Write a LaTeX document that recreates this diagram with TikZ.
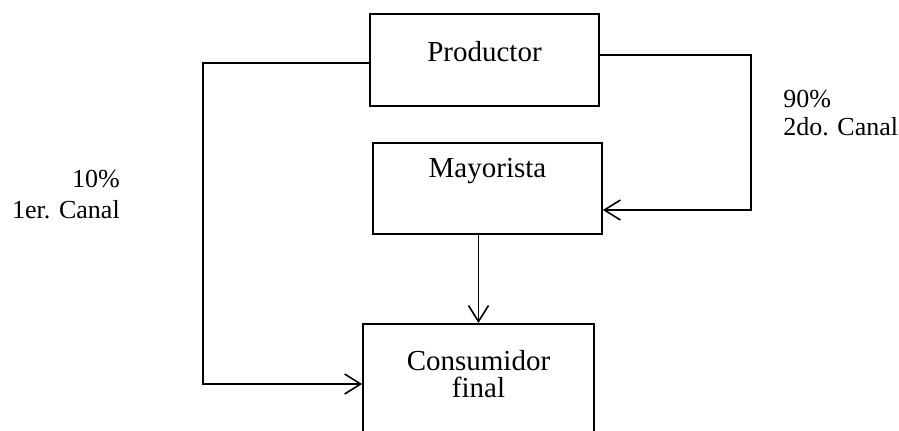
\documentclass[tikz,border=0pt]{standalone}
\usepackage{fontspec}
\setmainfont{Liberation Serif}
\usetikzlibrary{positioning,arrows.meta}
\tikzset{
	caja/.style={draw, line width=1.3pt, inner sep=0pt},
	flecha/.style={line width=1.3pt, -{Straight Barb[length=12pt,width=15pt,line width=1.2pt]}},
	rotulo/.style={font=\fontsize{19.5}{23}\selectfont, inner sep=0pt}
}

\begin{document}
\begin{tikzpicture}[x=0.75pt, y=-0.75pt, font=\fontsize{21.75}{26}\selectfont]
	\useasboundingbox (0,0) rectangle (899,430);
	\node[caja, anchor=north, minimum width=171.75pt, text height=36pt, text depth=33pt] (prod) at (484.5,13) {Productor};
	\node[caja, anchor=north, minimum width=171.75pt, text height=26.25pt, text depth=42pt] (may) at (487.5,142) {Mayorista};
	\node[caja, anchor=north, minimum width=173.25pt, minimum height=87.75pt] (cons) at (478.5,323) {};
	\node[anchor=base, inner sep=0pt] (tcons) at (478.5,370) {Consumidor};
	\node[anchor=base, inner sep=0pt] (tfin) at (478.5,397) {final};
	\coordinate (izq) at (203,384);
	\coordinate (der) at (751,210);
	\draw[flecha] ([yshift=-2.25pt]prod.west) -| (izq) -- (izq -| cons.west);
	\draw[flecha] ([yshift=3.75pt]prod.east) -| (der) -- (der -| may.east);
	\draw[flecha] (cons.north |- may.south) -- (cons.north);
	\node[rotulo, anchor=base east] (p1) at (120,187) {10\%};
	\node[rotulo, anchor=base east] (c1) at (120,218) {1er. Canal};
	\node[rotulo, anchor=base west] (p2) at (783,107) {90\%};
	\node[rotulo, anchor=base west] (c2) at (783,135) {2do. Canal};
\end{tikzpicture}
\end{document}
